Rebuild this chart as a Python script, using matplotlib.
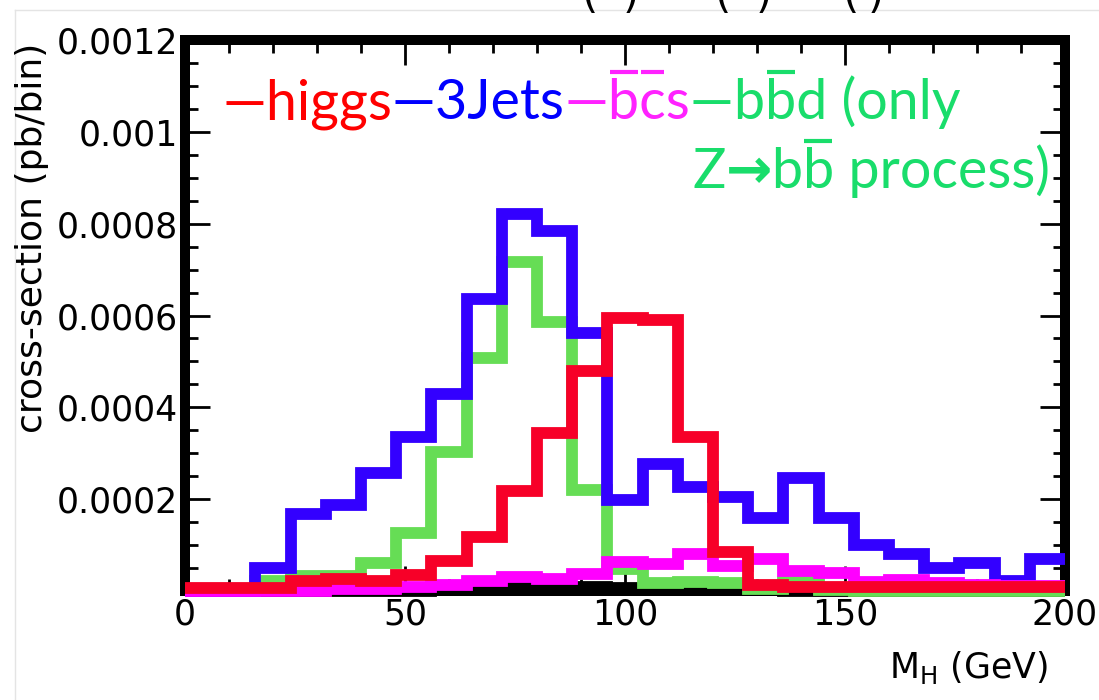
import numpy as np
import matplotlib
matplotlib.use("Agg")
import matplotlib.pyplot as plt
from matplotlib.lines import Line2D
from matplotlib.ticker import MultipleLocator

W, H = 1099, 700

# 8 GeV bins from 0 to 200
edges = np.arange(0, 201, 8)

# cross-section per bin, in units of 1e-4 pb/bin
higgs = np.array([0.065, 0.065, 0.065, 0.22, 0.26, 0.22, 0.35, 0.66, 1.17, 2.17, 3.45, 4.80, 5.95,
                  5.90, 3.35, 0.85, 0.14, 0.08, 0.08, 0.08, 0.08, 0.08, 0.08, 0.08, 0.08]) * 1e-4
three_jets = np.array([0, 0, 0.50, 1.67, 1.87, 2.56, 3.35, 4.30, 6.37, 8.22, 7.85, 5.61, 1.98,
                       2.76, 2.26, 2.05, 1.59, 2.47, 1.59, 1.00, 0.80, 0.50, 0.60, 0.22, 0.70]) * 1e-4
bcs = np.array([0, 0, 0, 0.01, 0.04, 0.04, 0.09, 0.12, 0.22, 0.30, 0.27, 0.37, 0.63,
                0.59, 0.80, 0.54, 0.70, 0.44, 0.39, 0.20, 0.25, 0.17, 0.12, 0.10, 0.10]) * 1e-4
bbd = np.array([0, 0, 0.22, 0.32, 0.32, 0.60, 1.26, 3.02, 5.07, 7.17, 5.85, 2.20, 0.48,
                0.17, 0.20, 0.17, 0.05, 0.20, 0.02, 0, 0, 0, 0, 0, 0]) * 1e-4
other = np.array([0, 0, 0, 0, 0, 0, 0.01, 0.02, 0.05, 0.08, 0.06, 0.08, 0.06,
                  0.05, 0.06, 0.04, 0.02, 0, 0, 0, 0, 0, 0, 0, 0]) * 1e-4

yticks = [0, 0.0002, 0.0004, 0.0006, 0.0008, 0.0010, 0.0012]
ylabels = ["", "0.0002", "0.0004", "0.0006", "0.0008", "0.001", "0.0012"]
xticks = [0, 50, 100, 150, 200]

c_red, c_blue, c_mag, c_green = "#f70028", "#3300ff", "#ff00ff", "#66dd55"
t_red, t_blue, t_mag, t_green = "#ff0000", "#0000ff", "#ff22ff", "#19dd6b"

fig = plt.figure(figsize=(W / 100, H / 100), dpi=100)
ax = fig.add_axes([185 / W, 1 - 591 / H, 880 / W, 551 / H])

for vals, col in [(other, "black"), (bbd, c_green), (three_jets, c_blue),
                  (bcs, c_mag), (higgs, c_red)]:
    ax.stairs(vals, edges, color=col, lw=8.5, baseline=None, zorder=3, clip_on=False)

ax.set_xlim(0, 200)
ax.set_ylim(0, 0.0012)
ax.set_xticks(xticks)
ax.set_xticklabels([str(v) for v in xticks])
ax.set_yticks(yticks)
ax.set_yticklabels(ylabels)
ax.xaxis.set_minor_locator(MultipleLocator(10))
ax.yaxis.set_minor_locator(MultipleLocator(0.00005))
ax.tick_params(which="both", direction="in", top=True, right=True, width=2, color="black")
ax.tick_params(which="major", length=18, labelsize=25, pad=5)
ax.tick_params(which="minor", length=9)
for sp in ax.spines.values():
    sp.set_linewidth(7.2)

fig.text(32 / W, 1 - 238 / H, "cross-section (pb/bin)", rotation=90,
         ha="center", va="center", fontsize=26)
fig.text(1048 / W, 1 - 678 / H, r"M$_{\mathrm{H}}$ (GeV)", ha="right",
         va="baseline", fontsize=25)

# slide border and the cut-off title above the plot
fig.add_artist(Line2D([15 / W, 1], [1 - 10 / H] * 2, color="#e4e4e4", lw=1))
fig.add_artist(Line2D([15 / W] * 2, [0, 1 - 10 / H], color="#e4e4e4", lw=1))
for px in [589, 631, 722, 764, 851, 876]:
    fig.text(px / W, 1 - 8 / H, "(" if px in (589, 722, 851) else ")",
             fontsize=30, ha="center", va="baseline")

# coloured legend text
fig.canvas.draw()
rend = fig.canvas.get_renderer()
LEG = dict(fontsize=40, family=["Lato", "DejaVu Sans"])


def text_w(s, **kw):
    t = fig.text(0, 0, s, **kw)
    w = t.get_window_extent(rend).width
    t.remove()
    return w


def write_run(x, y, segs, right=False):
    if right:
        x -= sum(text_w(s, **dict(LEG, **extra)) for s, _, _, extra in segs)
    for s, col, bars, extra in segs:
        kw = dict(LEG, **extra)
        fig.text(x / W, 1 - y / H, s, color=col, va="baseline", ha="left", **kw)
        for i in bars:
            x0 = x + (text_w(s[:i], **kw) if i else 0)
            x1 = x + text_w(s[:i + 1], **kw)
            fig.add_artist(Line2D([(x0 + 1) / W, (x1 - 2) / W], [1 - (y - 47) / H] * 2,
                                  color=col, lw=3, solid_capstyle="butt"))
        x += text_w(s, **kw)


write_run(222, 119, [("—higgs", t_red, [], {}), ("—3Jets", t_blue, [], {}),
                     ("—bcs", t_mag, [1, 2], {}), ("—bbd (only", t_green, [2], {})])
write_run(1050, 188, [("Z", t_green, [], {}),
                      ("→", t_green, [], dict(family="DejaVu Sans", weight="bold")),
                      ("bb process)", t_green, [1], {})], right=True)

fig.savefig("out.png", dpi=100)
